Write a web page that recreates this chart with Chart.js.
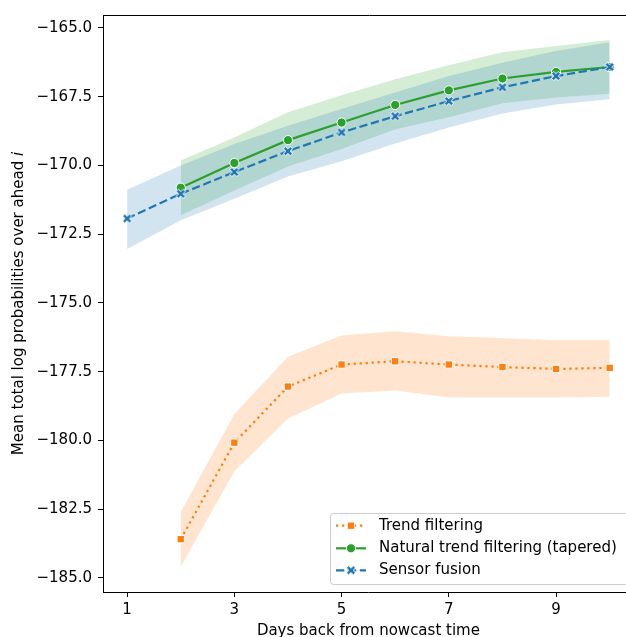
<!DOCTYPE html>
<html>
<head>
<meta charset="utf-8">
<script src="https://cdn.jsdelivr.net/npm/chart.js@4.4.0/dist/chart.umd.min.js"></script>
<style>
  html, body { margin: 0; padding: 0; overflow: hidden; background: #fff; }
  #wrap { position: absolute; left: 0; top: 0; width: 640px; height: 637px; }
</style>
</head>
<body>
<div id="wrap"><canvas id="c" width="640" height="637"></canvas></div>
<script>
const days = [1, 2, 3, 4, 5, 6, 7, 8, 9, 10];
const xTicks = [1, 3, 5, 7, 9];
const yTicks = [-185, -182.5, -180, -177.5, -175, -172.5, -170, -167.5, -165];

const trendMean = [null, -183.59, -180.08, -178.04, -177.24, -177.12, -177.24, -177.33, -177.40, -177.36];
const trendLow  = [null, -184.59, -181.13, -179.20, -178.29, -178.18, -178.44, -178.44, -178.44, -178.41];
const trendHigh = [null, -182.60, -179.04, -176.96, -176.18, -176.03, -176.21, -176.27, -176.36, -176.36];

const naturalMean = [null, -170.81, -169.91, -169.08, -168.44, -167.80, -167.27, -166.84, -166.60, -166.42];
const naturalLow  = [null, -171.81, -170.91, -170.04, -169.40, -168.68, -168.25, -167.74, -167.53, -167.39];
const naturalHigh = [null, -169.82, -168.98, -168.07, -167.45, -166.87, -166.36, -165.88, -165.66, -165.44];

const fusionMean = [-171.93, -171.03, -170.24, -169.48, -168.80, -168.21, -167.66, -167.16, -166.75, -166.42];
const fusionLow  = [-173.04, -171.99, -171.21, -170.40, -169.85, -169.20, -168.62, -168.11, -167.78, -167.59];
const fusionHigh = [-170.88, -170.00, -169.22, -168.56, -167.95, -167.35, -166.75, -166.27, -165.84, -165.52];

const ORANGE = '#ff7f0e', GREEN = '#2ca02c', BLUE = '#1f77b4';
const FONT = "'DejaVu Sans', sans-serif";
const FS = 15;

const pts = (arr) => days.map((d, i) => ({ x: d, y: arr[i] })).filter((p) => p.y !== null);

// filled 'X' marker like matplotlib, white edge
function xMarker(color) {
  const c = document.createElement('canvas');
  c.width = 14; c.height = 14;
  const g = c.getContext('2d');
  const s = 9.2 / 4;
  const v = [[-1, -2], [0, -1], [1, -2], [2, -1], [1, 0], [2, 1], [1, 2], [0, 1], [-1, 2], [-2, 1], [-1, 0], [-2, -1]];
  g.beginPath();
  v.forEach(([a, b], i) => (i ? g.lineTo(7 + a * s, 7 + b * s) : g.moveTo(7 + a * s, 7 + b * s)));
  g.closePath();
  g.fillStyle = color;
  g.fill();
  g.strokeStyle = '#fff';
  g.lineWidth = 1;
  g.stroke();
  return c;
}
const X_IMG = xMarker(BLUE);

function lineDataset(label, data, color, pointStyle, radius, dash) {
  return {
    label, data: pts(data),
    borderColor: color, backgroundColor: color, borderWidth: 2.2, borderDash: dash,
    borderCapStyle: 'butt',
    pointStyle, pointRadius: radius, pointBorderColor: '#fff', pointBorderWidth: 1,
    pointBackgroundColor: color, fill: false, tension: 0,
  };
}
function bandDataset(data, fill, color) {
  return {
    label: '', data: pts(data), borderWidth: 0, borderColor: 'rgba(0,0,0,0)',
    pointRadius: 0, fill, backgroundColor: color, tension: 0,
  };
}

const frame = {
  id: 'frame',
  afterDraw(chart) {
    const { ctx, chartArea: a } = chart;
    ctx.save();
    // top spine
    ctx.strokeStyle = '#000';
    ctx.lineWidth = 1;
    ctx.beginPath();
    ctx.moveTo(a.left, a.top + 0.5);
    ctx.lineTo(a.right + 2, a.top + 0.5);
    ctx.stroke();

    // axis titles
    ctx.fillStyle = '#000';
    ctx.textBaseline = 'middle';
    ctx.textAlign = 'center';
    ctx.font = `${FS}px ${FONT}`;
    ctx.fillText('Days back from nowcast time', (a.left + a.right) / 2, 631);

    const main = 'Mean total log probabilities over ahead ';
    const w1 = ctx.measureText(main).width;
    ctx.font = `italic ${FS}px ${FONT}`;
    const w2 = ctx.measureText('i').width;
    ctx.translate(19, (a.top + a.bottom) / 2);
    ctx.rotate(-Math.PI / 2);
    ctx.textAlign = 'left';
    ctx.font = `${FS}px ${FONT}`;
    ctx.fillText(main, -(w1 + w2) / 2, 0);
    ctx.font = `italic ${FS}px ${FONT}`;
    ctx.fillText('i', -(w1 + w2) / 2 + w1, 0);
    ctx.restore();

    // legend
    ctx.save();
    const bx = 330.5, by = 513.5, bw = 298, bh = 71;
    ctx.fillStyle = 'rgba(255,255,255,0.8)';
    ctx.strokeStyle = '#cccccc';
    ctx.lineWidth = 1;
    ctx.beginPath();
    ctx.roundRect(bx, by, bw, bh, 3);
    ctx.fill();
    ctx.stroke();
    const entries = [
      { ds: chart.data.datasets[2], y: 525.7 },
      { ds: chart.data.datasets[1], y: 548.3 },
      { ds: chart.data.datasets[0], y: 570.3 },
    ];
    entries.forEach(({ ds, y }) => {
      ctx.strokeStyle = ds.borderColor;
      ctx.lineWidth = ds.borderWidth;
      ctx.setLineDash(ds.borderDash || []);
      ctx.beginPath();
      ctx.moveTo(336, y);
      ctx.lineTo(366, y);
      ctx.stroke();
      ctx.setLineDash([]);
      ctx.fillStyle = ds.backgroundColor;
      ctx.strokeStyle = '#fff';
      ctx.lineWidth = 1;
      if (ds.pointStyle === 'rect') {
        const s = ds.pointRadius * Math.SQRT1_2;
        ctx.fillRect(351 - s, y - s, 2 * s, 2 * s);
        ctx.strokeRect(351 - s, y - s, 2 * s, 2 * s);
      } else if (ds.pointStyle === 'circle') {
        ctx.beginPath();
        ctx.arc(351, y, ds.pointRadius, 0, Math.PI * 2);
        ctx.fill();
        ctx.stroke();
      } else {
        ctx.drawImage(ds.pointStyle, 351 - 7, y - 7);
      }
      ctx.fillStyle = '#000';
      ctx.textAlign = 'left';
      ctx.textBaseline = 'middle';
      ctx.font = `${FS}px ${FONT}`;
      ctx.fillText(ds.label, 379, y);
    });
    ctx.restore();
  },
};

new Chart(document.getElementById('c'), {
  type: 'line',
  data: {
    datasets: [
      lineDataset('Sensor fusion', fusionMean, BLUE, X_IMG, 5, [8.3, 3.6]),
      lineDataset('Natural trend filtering (tapered)', naturalMean, GREEN, 'circle', 4.6, []),
      lineDataset('Trend filtering', trendMean, ORANGE, 'rect', 5.2, [2.3, 3.7]),
      bandDataset(fusionLow, false, 'rgba(0,0,0,0)'),
      bandDataset(fusionHigh, 3, 'rgba(31,119,180,0.2)'),
      bandDataset(naturalLow, false, 'rgba(0,0,0,0)'),
      bandDataset(naturalHigh, 5, 'rgba(44,160,44,0.2)'),
      bandDataset(trendLow, false, 'rgba(0,0,0,0)'),
      bandDataset(trendHigh, 7, 'rgba(255,127,14,0.2)'),
    ],
  },
  options: {
    responsive: false,
    devicePixelRatio: 1,
    animation: false,
    events: [],
    layout: { padding: { top: 12, right: 4, left: 0, bottom: 0 } },
    plugins: { legend: { display: false }, tooltip: { enabled: false } },
    scales: {
      x: {
        type: 'linear', min: 0.55, max: 10.45,
        afterBuildTicks: (s) => { s.ticks = xTicks.map((v) => ({ value: v })); },
        afterFit: (s) => { s.height = 45; },
        ticks: { color: '#000', font: { family: FONT, size: FS }, padding: 4, maxRotation: 0 },
        grid: { drawOnChartArea: false, tickLength: 5, tickColor: '#000', tickWidth: 1 },
        border: { color: '#000', width: 1 },
      },
      y: {
        type: 'linear', min: -185.51, max: -164.53,
        afterBuildTicks: (s) => { s.ticks = yTicks.map((v) => ({ value: v })); },
        afterFit: (s) => { s.width = 103; },
        ticks: {
          color: '#000', font: { family: FONT, size: FS }, padding: 6,
          callback: (v) => (v < 0 ? '\u2212' : '') + Math.abs(v).toFixed(1),
        },
        grid: { drawOnChartArea: false, tickLength: 5, tickColor: '#000', tickWidth: 1 },
        border: { color: '#000', width: 1 },
      },
    },
  },
  plugins: [frame],
});
</script>
</body>
</html>
